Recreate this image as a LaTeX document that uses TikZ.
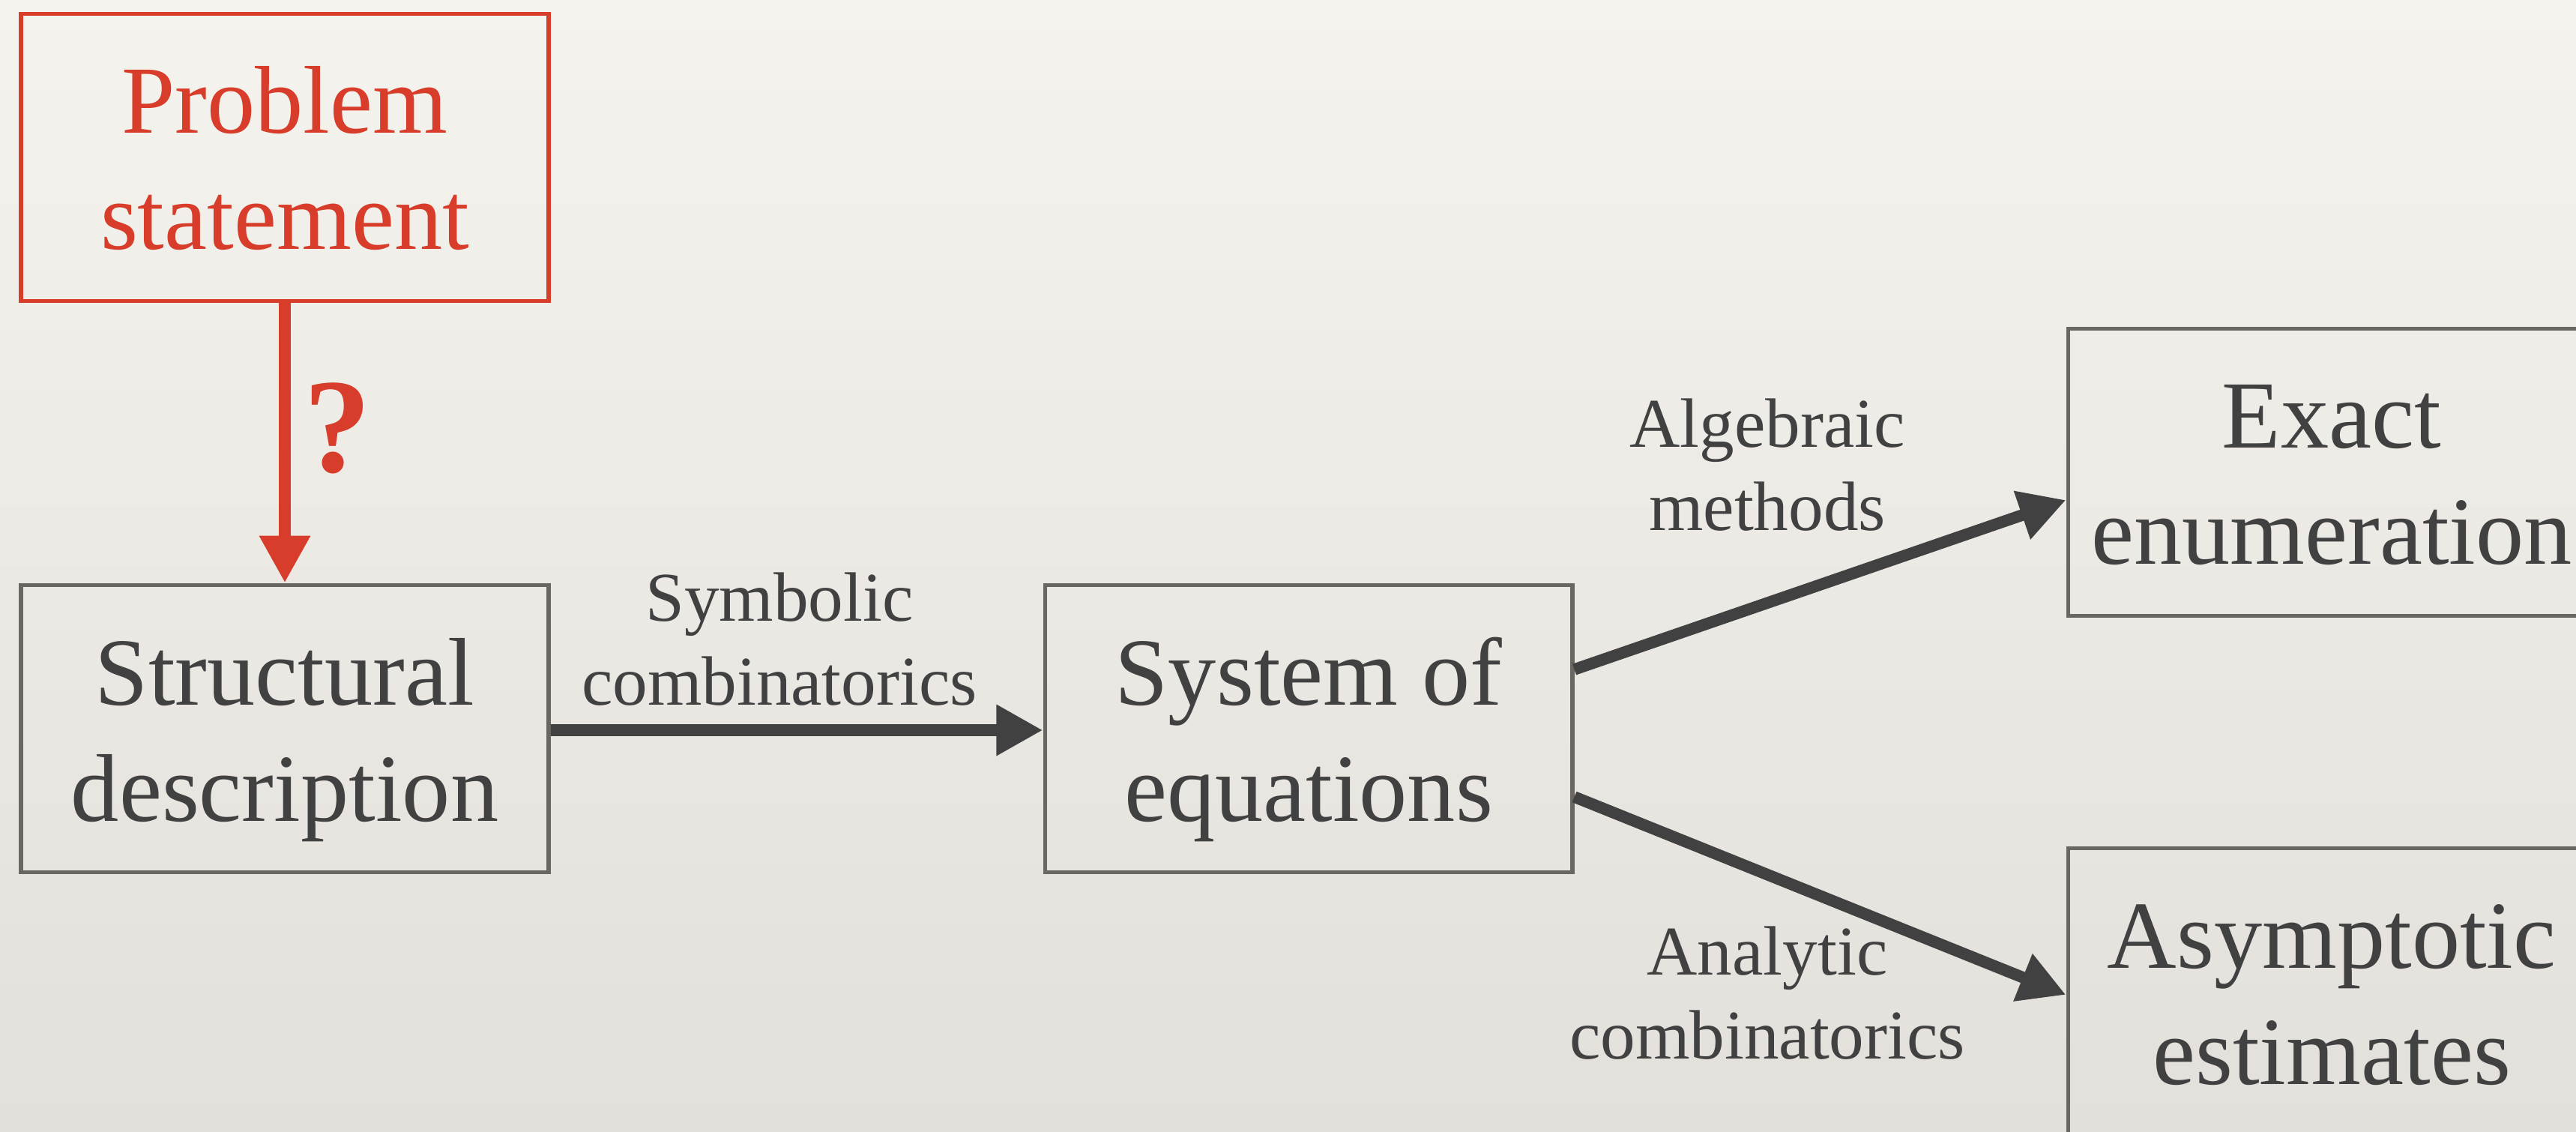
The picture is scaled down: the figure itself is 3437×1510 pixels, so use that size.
\documentclass[tikz,border=0pt]{standalone}
\usepackage{fontspec}
\setmainfont{Liberation Serif}
\usetikzlibrary{arrows.meta,calc}
\definecolor{bgtop}{HTML}{F5F3EE}
\definecolor{bgbot}{HTML}{E3E0DB}
\definecolor{redc}{HTML}{D73D2A}
\definecolor{inkc}{HTML}{414141}
\definecolor{framec}{HTML}{6A6763}
\begin{document}
\begin{tikzpicture}[x=0.01cm,y=-0.01cm,
  box/.style={draw=framec, line width=1.6pt, minimum width=7.03cm, minimum height=3.83cm, inner sep=0pt},
  redbox/.style={box, draw=redc},
  big/.style={font=\fontsize{36.5}{40}\selectfont, text=inkc, anchor=base, inner sep=0pt},
  bigred/.style={big, text=redc},
  lab/.style={font=\fontsize{26.5}{30}\selectfont, text=inkc, anchor=base, inner sep=0pt},
  arr/.style={draw=inkc, line width=0.155cm, -{Triangle[length=0.62cm,width=0.64cm]}},
  redarr/.style={draw=redc, line width=0.165cm, -{Triangle[length=0.63cm,width=0.64cm]}}
]
\useasboundingbox (0,0) rectangle (3437,1510);
\shade[top color=bgtop, bottom color=bgbot] (0,0) rectangle (3437,1510);
\clip (0,0) rectangle (3437,1510);

% boxes
\node[redbox] (pb) at (380,210) {};
\node[box] (sd) at (380,972) {};
\node[box] (sys) at (1746,972) {};
\node[box] (ex) at (3111,630) {};
\node[box] (as) at (3111,1323) {};

% box texts
\node[bigred] (pb1) at ($(pb.center)+(0,-32)$) {Problem};
\node[bigred] (pb2) at ($(pb.center)+(0,123)$) {statement};
\node[big] (sd1) at ($(sd.center)+(0,-32)$) {Structural};
\node[big] (sd2) at ($(sd.center)+(0,123)$) {description};
\node[big] (sys1) at ($(sys.center)+(0,-32)$) {System of};
\node[big] (sys2) at ($(sys.center)+(0,123)$) {equations};
\node[big] (ex1) at ($(ex.center)+(0,-32)$) {Exact};
\node[big] (ex2) at ($(ex.center)+(0,123)$) {enumeration};
\node[big] (as1) at ($(as.center)+(0,-32)$) {Asymptotic};
\node[big] (as2) at ($(as.center)+(0,123)$) {estimates};

% connectors
\draw[redarr] (pb.south) -- (sd.north);
\node[font=\fontsize{51}{55}\bfseries\selectfont, text=redc, anchor=base, inner sep=0pt] (q) at (450,630) {?};

\draw[arr] ($(sd.east)+(0,2)$) -- ($(sys.west)+(0,2)$);
\node[lab] (l1a) at (1040,828) {Symbolic};
\node[lab] (l1b) at (1040,940) {combinatorics};

\coordinate (eu) at ($(sys.east)+(0,-79)$);
\coordinate (el) at ($(sys.east)+(0,91)$);
\draw[arr] (eu) -- ($(ex.west)+(0,37)$);
\draw[arr] (el) -- ($(as.west)+(0,4)$);
\node[lab] (l2a) at (2358,597) {Algebraic};
\node[lab] (l2b) at (2358,708) {methods};
\node[lab] (l3a) at (2358,1300) {Analytic};
\node[lab] (l3b) at (2358,1412) {combinatorics};
\end{tikzpicture}
\end{document}
